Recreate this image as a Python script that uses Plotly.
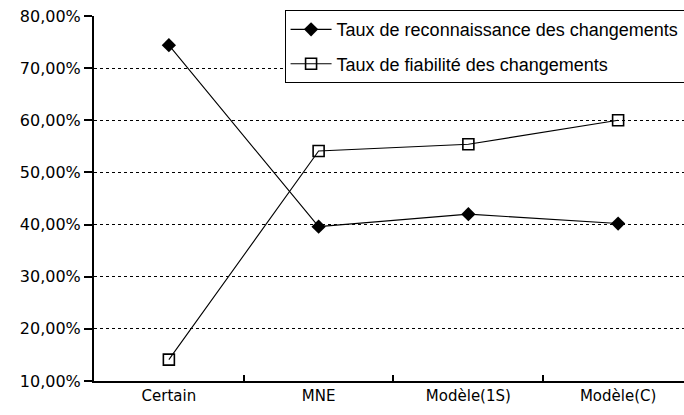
import plotly.graph_objects as go

# Catégories et séries (en %)
categories = ["Certain", "MNE", "Modèle(1S)", "Modèle(C)"]
reconnaissance = [74.4, 39.6, 42.0, 40.2]
fiabilite = [14.1, 54.1, 55.4, 60.0]

y_ticks = [10, 20, 30, 40, 50, 60, 70, 80]
y_tick_labels = ["10,00%", "20,00%", "30,00%", "40,00%", "50,00%", "60,00%", "70,00%", "80,00%"]

x_font = dict(family="DejaVu Sans", size=15, color="black")
y_font = dict(family="DejaVu Sans", size=16, color="black")

fig = go.Figure()
fig.add_trace(go.Scatter(
    x=categories, y=reconnaissance, mode="lines+markers",
    name="Taux de reconnaissance des changements",
    legendgroup="a",
    line=dict(color="black", width=1.1),
    marker=dict(symbol="diamond", size=11, color="black"),
))
fig.add_trace(go.Scatter(
    x=categories, y=fiabilite, mode="lines+markers",
    name="Taux de fiabilité des changements",
    legendgroup="b",
    line=dict(color="black", width=1.1),
    marker=dict(symbol="square-open", size=11, color="black", line=dict(width=1.6)),
))

fig.update_layout(
    width=684, height=415,
    margin=dict(l=94, r=0, t=16, b=34, autoexpand=False),
    paper_bgcolor="white", plot_bgcolor="white",
    showlegend=True,
    legend=dict(
        x=0.323, y=1.016, xanchor="left", yanchor="top",
        bgcolor="white", bordercolor="black", borderwidth=1,
        font=dict(family="Liberation Sans", size=18, color="black"),
        tracegroupgap=8, itemwidth=41,
    ),
)
fig.update_xaxes(
    type="category", range=[-0.5, 3.44],
    tickson="boundaries", ticks="inside", ticklen=6, tickcolor="black", tickwidth=1.5,
    showline=True, linecolor="black", linewidth=2,
    showgrid=False, tickfont=x_font, fixedrange=True,
)
fig.update_yaxes(
    range=[10, 80], tickvals=y_ticks, ticktext=y_tick_labels,
    ticks="outside", ticklen=8, tickcolor="black", tickwidth=1.5,
    showline=True, linecolor="black", linewidth=2,
    showgrid=True, gridcolor="black", gridwidth=1, griddash="dot",
    zeroline=False, tickfont=y_font,
)

fig.write_html("out.html")
